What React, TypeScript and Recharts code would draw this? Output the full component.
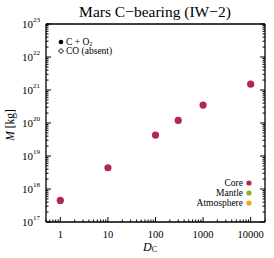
import React from "react";
import { ScatterChart, Scatter, XAxis, YAxis } from "recharts";

const dcValues = [1, 10, 100, 300, 1000, 10000];
const coreMass = [4.5e17, 4.4e18, 4.3e19, 1.2e20, 3.5e20, 1.5e21];
const xMajorTicks = [1, 10, 100, 1000, 10000];
const xMajorLabels = ["1", "10", "100", "1000", "10000"];
const yMajorExps = [17, 18, 19, 20, 21, 22, 23];
const legendPhases = ["Core", "Mantle", "Atmosphere"];
const phaseColors = ["#b2294a", "#9aab1c", "#f7a21e"];

const X_DOMAIN: [number, number] = [0.5, 20000];
const Y_DOMAIN: [number, number] = [1e17, 1e23];

const coreData = dcValues.map((d, i) => ({ dc: d, m: coreMass[i] }));

const buildLogTicks = (lo: number, hi: number) => {
  const out: number[] = [];
  for (let e = Math.floor(Math.log10(lo)); e <= Math.ceil(Math.log10(hi)); e++) {
    for (let k = 1; k <= 9; k++) {
      const v = k * Math.pow(10, e);
      if (v >= lo * 0.9999 && v <= hi * 1.0001) out.push(v);
    }
  }
  return out;
};
const xTicks = buildLogTicks(X_DOMAIN[0], X_DOMAIN[1]);
const yTicks = buildLogTicks(Y_DOMAIN[0], Y_DOMAIN[1]);

const isMajor = (v: number) => {
  const l = Math.log10(v);
  return Math.abs(l - Math.round(l)) < 1e-6;
};

const FONT = "'Liberation Serif', 'DejaVu Serif', serif";
const MAJ = 5;
const MIN = 2.5;

const BottomTick = (props: any) => {
  const { x, y, payload } = props;
  const v = payload.value;
  const major = isMajor(v);
  const idx = xMajorTicks.findIndex((t) => Math.abs(t - v) / t < 1e-6);
  return (
    <g>
      <line x1={x} x2={x} y1={y} y2={y - (major ? MAJ : MIN)} stroke="#000" strokeWidth={1} />
      {idx >= 0 && (
        <text x={x} y={y + 12} textAnchor="middle" dominantBaseline="central" fontFamily={FONT} fontSize={10.5} fill="#000">
          {xMajorLabels[idx]}
        </text>
      )}
    </g>
  );
};

const TopTick = (props: any) => {
  const { x, y, payload } = props;
  const major = isMajor(payload.value);
  return <line x1={x} x2={x} y1={y} y2={y + (major ? MAJ : MIN)} stroke="#000" strokeWidth={1} />;
};

const LeftTick = (props: any) => {
  const { x, y, payload } = props;
  const v = payload.value;
  const major = isMajor(v);
  const exp = Math.round(Math.log10(v));
  const showLabel = major && yMajorExps.includes(exp);
  return (
    <g>
      <line x1={x} x2={x + (major ? MAJ : MIN)} y1={y} y2={y} stroke="#000" strokeWidth={1} />
      {showLabel && (
        <text x={x - 13} y={y} textAnchor="end" dominantBaseline="central" fontFamily={FONT} fontSize={11} fill="#000">
          10
        </text>
      )}
      {showLabel && (
        <text x={x - 13} y={y - 4} textAnchor="start" dominantBaseline="central" fontFamily={FONT} fontSize={7} fill="#000">
          {String(exp)}
        </text>
      )}
    </g>
  );
};

const RightTick = (props: any) => {
  const { x, y, payload } = props;
  const major = isMajor(payload.value);
  return <line x1={x} x2={x - (major ? MAJ : MIN)} y1={y} y2={y} stroke="#000" strokeWidth={1} />;
};

export default function App() {
  return (
    <div style={{ position: "absolute", left: 0, top: 0, width: 274, height: 258, background: "#fff", fontFamily: FONT }}>
      <ScatterChart width={274} height={258} margin={{ top: 23, right: 8, bottom: 0, left: 0 }}>
        <XAxis
          dataKey="dc"
          type="number"
          scale="log"
          domain={X_DOMAIN}
          allowDataOverflow
          ticks={xTicks}
          interval={0}
          tick={<BottomTick />}
          tickSize={0}
          tickMargin={0}
          tickLine={false}
          height={36}
          axisLine={{ stroke: "#000", strokeWidth: 1.3 }}
        />
        <XAxis
          xAxisId="top"
          orientation="top"
          type="number"
          scale="log"
          domain={X_DOMAIN}
          allowDataOverflow
          ticks={xTicks}
          interval={0}
          tick={<TopTick />}
          tickSize={0}
          tickMargin={0}
          tickLine={false}
          height={1}
          axisLine={{ stroke: "#000", strokeWidth: 1.3 }}
        />
        <YAxis
          dataKey="m"
          type="number"
          scale="log"
          domain={Y_DOMAIN}
          allowDataOverflow
          ticks={yTicks}
          interval={0}
          tick={<LeftTick />}
          tickSize={0}
          tickMargin={0}
          tickLine={false}
          width={46}
          axisLine={{ stroke: "#000", strokeWidth: 1.3 }}
        />
        <YAxis
          yAxisId="right"
          orientation="right"
          type="number"
          scale="log"
          domain={Y_DOMAIN}
          allowDataOverflow
          ticks={yTicks}
          interval={0}
          tick={<RightTick />}
          tickSize={0}
          tickMargin={0}
          tickLine={false}
          width={1}
          axisLine={{ stroke: "#000", strokeWidth: 1.3 }}
        />
        <Scatter
          data={coreData}
          fill={phaseColors[0]}
          isAnimationActive={false}
          shape={(p: any) => <circle cx={p.cx} cy={p.cy} r={3.6} fill={phaseColors[0]} />}
        />
      </ScatterChart>

      <div style={{ position: "absolute", left: 0, width: 310, top: 3, textAlign: "center", fontSize: 15.5, lineHeight: "18px", color: "#000" }}>
        Mars C−bearing (IW−2)
      </div>

      <svg width={274} height={258} style={{ position: "absolute", left: 0, top: 0, pointerEvents: "none" }}>
        <circle cx={61} cy={42} r={2.3} fill="#000" />
        <text x={66} y={42} dominantBaseline="central" fontFamily={FONT} fontSize={9.5} fill="#000">
          C + O<tspan fontSize={6} dy={2}>2</tspan>
        </text>
        <path d="M61 48.5 L63.5 51 L61 53.5 L58.5 51 Z" fill="none" stroke="#000" strokeWidth={1} />
        <text x={66} y={51} dominantBaseline="central" fontFamily={FONT} fontSize={9.5} fill="#000">
          CO (absent)
        </text>

        {legendPhases.map((name, i) => (
          <g key={name}>
            <text x={243} y={183 + i * 10} textAnchor="end" dominantBaseline="central" fontFamily={FONT} fontSize={9.5} fill="#000">
              {name}
            </text>
            <circle cx={249} cy={183 + i * 10} r={2.6} fill={phaseColors[i]} />
          </g>
        ))}

        <text x={10} y={125} transform="rotate(-90 10 125)" textAnchor="middle" dominantBaseline="central" fontFamily={FONT} fontSize={11.5} fill="#000">
          <tspan fontStyle="italic">M</tspan> [kg]
        </text>
        <text x={150} y={247} textAnchor="middle" dominantBaseline="central" fontFamily={FONT} fontSize={12} fill="#000">
          <tspan fontStyle="italic">D</tspan>
          <tspan fontSize={8} dy={2}>C</tspan>
        </text>
      </svg>
    </div>
  );
}
